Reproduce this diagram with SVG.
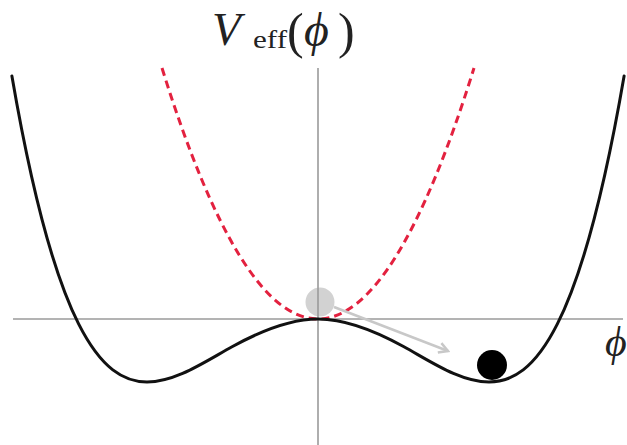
<svg xmlns="http://www.w3.org/2000/svg" width="627" height="445" viewBox="0 0 627 445">
<style>
.axis{stroke:#9a9a9a;stroke-width:1.6;fill:none}
.pot{stroke:#111;stroke-width:3;fill:none;stroke-linecap:round}
.quad{stroke:#e3213f;stroke-width:3;fill:none;stroke-dasharray:8 5}
.lbl{font-family:"Liberation Serif","DejaVu Serif",serif;fill:#222}
</style>
<defs>
<marker id="ah" viewBox="0 0 12 12" refX="10" refY="6" markerWidth="12" markerHeight="12" markerUnits="userSpaceOnUse" orient="auto">
<polyline points="1,1 10,6 1,11" fill="none" stroke="#c8c8c8" stroke-width="2.5"/>
</marker>
</defs>
<g id="ball-top"><circle cx="320" cy="302" r="14.5" fill="#d2d2d2"/></g>
<g id="axes">
<line class="axis" x1="13" y1="319" x2="623" y2="319"/>
<line class="axis" x1="318" y1="68" x2="318" y2="445"/>
</g>
<g id="quadratic"><path class="quad" d="M162,68 Q318,570 474,68"/></g>
<g id="potential"><path class="pot" d="M11.9,76 C34.13,205.2 56.37,279.91 78.6,323.94 C101.4,369.1 124.2,382 147,382 C175.5,382 204,362.31 232.5,346.56 C261,330.81 289.5,319 318,319 C346.5,319 375,330.81 403.5,346.56 C432,362.31 460.5,382 489,382 C511.8,382 534.6,369.1 557.4,323.94 C579.63,279.91 601.87,205.2 624.1,76"/></g>
<g id="connectors"><line x1="334" y1="307" x2="448" y2="351" stroke="#c8c8c8" stroke-width="2.5" marker-end="url(#ah)"/></g>
<g id="ball-bottom"><circle cx="492" cy="365" r="15" fill="#000"/></g>
<g id="title">
<text class="lbl" x="212" y="45" font-size="47" font-style="italic">V</text>
<text class="lbl" x="253" y="48" font-size="26" textLength="34" lengthAdjust="spacingAndGlyphs">eff</text>
<text class="lbl" x="287" y="48" font-size="50">(</text>
<text class="lbl" x="304" y="46" font-size="48" font-style="italic">ϕ</text>
<text class="lbl" x="338" y="48" font-size="50">)</text>
</g>
<g id="xlabel"><text class="lbl" x="605" y="356" font-size="42" font-style="italic">ϕ</text></g>
</svg>
